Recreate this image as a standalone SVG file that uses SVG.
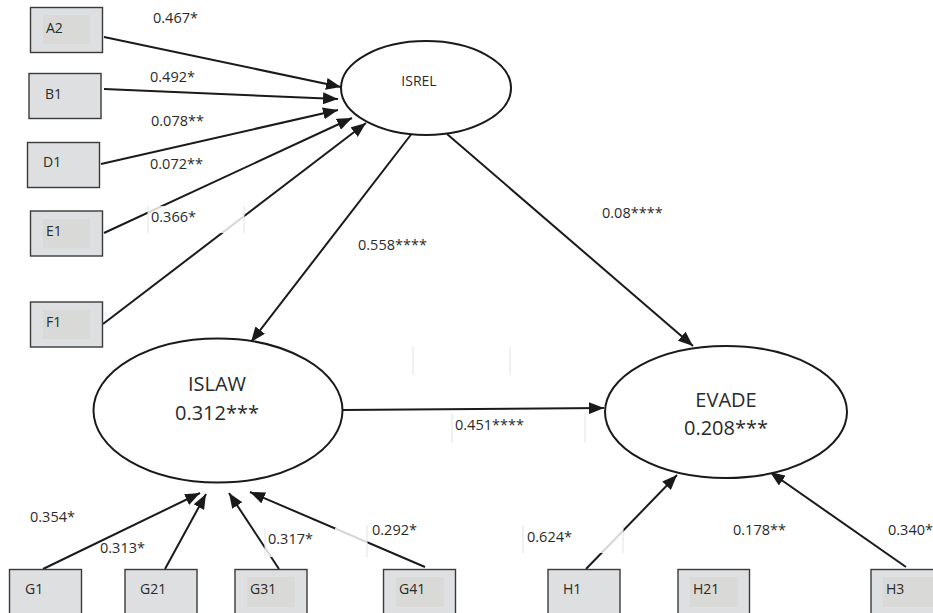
<svg xmlns="http://www.w3.org/2000/svg" width="933" height="613" viewBox="0 0 933 613">
<style>
.box{fill:#dedfe1;stroke:#3a3a3a;stroke-width:1.4}
.inner{fill:#d9d9d7;stroke:none}
.ell{fill:#fff;stroke:#1a1a1a;stroke-width:2}
.lbl{font-family:"Open Sans","Liberation Sans",sans-serif;font-size:14px;fill:#2a2a2a}
.big{font-family:"Open Sans","Liberation Sans",sans-serif;font-size:20px;fill:#2a2a2a;text-anchor:middle}
.coef{font-family:"Open Sans","Liberation Sans",sans-serif;font-size:14.5px;fill:#2a2a2a}
.conn{stroke:#1a1a1a;stroke-width:2;fill:none;marker-end:url(#ah)}
.tb{fill:#fff;fill-opacity:0.82;stroke:none}
.tbl{stroke:#e2e2e2;stroke-width:1}
</style>
<defs>
<marker id="ah" markerUnits="userSpaceOnUse" markerWidth="15" markerHeight="12" refX="15" refY="6" orient="auto">
<path d="M0,0 L15,6 L0,12 z" fill="#1a1a1a"/>
</marker>
</defs>
<rect width="933" height="613" fill="#fff"/>

<g id="connectors">
<line class="conn" x1="104" y1="37" x2="341" y2="87"/>
<line class="conn" x1="104" y1="89" x2="338" y2="99"/>
<line class="conn" x1="101" y1="164" x2="338" y2="110"/>
<line class="conn" x1="104" y1="233" x2="352" y2="118"/>
<line class="conn" x1="103" y1="324" x2="366" y2="123"/>
<line class="conn" x1="413" y1="132" x2="251" y2="342"/>
<line class="conn" x1="447" y1="134" x2="693" y2="346"/>
<line class="conn" x1="342" y1="410" x2="604" y2="408"/>
<line class="conn" x1="43" y1="569" x2="200" y2="493"/>
<line class="conn" x1="165" y1="569" x2="206" y2="494"/>
<line class="conn" x1="279" y1="569" x2="229" y2="493"/>
<line class="conn" x1="425" y1="567" x2="250" y2="492"/>
<line class="conn" x1="586" y1="569" x2="677" y2="475"/>
<line class="conn" x1="906" y1="567" x2="770" y2="472"/>
</g>

<g id="textboxes">
<rect class="tb" x="148" y="206" width="96" height="27"/>
<line class="tbl" x1="148" y1="206" x2="148" y2="233"/>
<line class="tbl" x1="244" y1="206" x2="244" y2="233"/>
<rect class="tb" x="265" y="528" width="40" height="29"/>
<line class="tbl" x1="265" y1="528" x2="265" y2="557"/>
<rect class="tb" x="335" y="528" width="32" height="29"/>
<line class="tbl" x1="367" y1="525" x2="367" y2="557"/>
<rect class="tb" x="523" y="525" width="100" height="28"/>
<line class="tbl" x1="523" y1="525" x2="523" y2="553"/>
<line class="tbl" x1="623" y1="525" x2="623" y2="553"/>
<line class="tbl" x1="452" y1="413" x2="452" y2="443"/>
<line class="tbl" x1="585" y1="413" x2="585" y2="443"/>
<line class="tbl" x1="413" y1="346" x2="413" y2="375"/>
<line class="tbl" x1="510" y1="346" x2="510" y2="375"/>
</g>

<g id="A2"><rect class="box" x="30.5" y="7.5" width="72" height="45"/><rect class="inner" x="43" y="15" width="47" height="29"/><text class="lbl" x="46" y="33">A2</text></g>
<g id="B1"><rect class="box" x="29" y="73.5" width="72" height="45"/><text class="lbl" x="45" y="99">B1</text></g>
<g id="D1"><rect class="box" x="27.5" y="142.5" width="72" height="45"/><text class="lbl" x="43" y="167">D1</text></g>
<g id="E1"><rect class="box" x="30.5" y="211" width="72" height="45"/><rect class="inner" x="43" y="219" width="47" height="29"/><text class="lbl" x="46" y="236">E1</text></g>
<g id="F1"><rect class="box" x="30.5" y="302" width="72" height="45"/><rect class="inner" x="43" y="310" width="47" height="29"/><text class="lbl" x="46" y="327">F1</text></g>

<g id="ISREL"><ellipse class="ell" cx="426" cy="88" rx="85" ry="47"/><text class="lbl" x="419" y="86" text-anchor="middle" font-size="13">ISREL</text></g>
<g id="ISLAW"><ellipse class="ell" cx="218" cy="410.5" rx="124.5" ry="72"/><text class="big" x="217" y="391">ISLAW</text><text class="big" x="217" y="420">0.312***</text></g>
<g id="EVADE"><ellipse class="ell" cx="726" cy="412" rx="121" ry="66"/><text class="big" x="726" y="407">EVADE</text><text class="big" x="726" y="435">0.208***</text></g>

<g id="G1"><rect class="box" x="9.5" y="569.5" width="72" height="50"/><text class="lbl" x="25" y="594">G1</text></g>
<g id="G21"><rect class="box" x="125" y="569.5" width="72" height="50"/><text class="lbl" x="140" y="594">G21</text></g>
<g id="G31"><rect class="box" x="235" y="569.5" width="72" height="50"/><rect class="inner" x="247" y="577" width="48" height="30"/><text class="lbl" x="250" y="594">G31</text></g>
<g id="G41"><rect class="box" x="383.5" y="569.5" width="72" height="50"/><rect class="inner" x="396" y="577" width="48" height="30"/><text class="lbl" x="399" y="594">G41</text></g>
<g id="H1"><rect class="box" x="548" y="569.5" width="72" height="50"/><text class="lbl" x="563" y="594">H1</text></g>
<g id="H21"><rect class="box" x="678" y="569.5" width="71.5" height="50"/><rect class="inner" x="690" y="577" width="48" height="30"/><text class="lbl" x="693" y="594">H21</text></g>
<g id="H3"><rect class="box" x="871" y="569.5" width="72" height="50"/><rect class="inner" x="883" y="577" width="50" height="30"/><text class="lbl" x="886" y="594">H3</text></g>

<g id="labels">
<text class="coef" x="153" y="23">0.467*</text>
<text class="coef" x="150" y="82">0.492*</text>
<text class="coef" x="151" y="126">0.078**</text>
<text class="coef" x="150" y="169">0.072**</text>
<text class="coef" x="151" y="222">0.366*</text>
<text class="coef" x="358" y="250">0.558****</text>
<text class="coef" x="602" y="218">0.08****</text>
<text class="coef" x="455" y="430">0.451****</text>
<text class="coef" x="30" y="522">0.354*</text>
<text class="coef" x="100" y="553">0.313*</text>
<text class="coef" x="268" y="544">0.317*</text>
<text class="coef" x="372" y="535">0.292*</text>
<text class="coef" x="527" y="542">0.624*</text>
<text class="coef" x="733" y="535">0.178**</text>
<text class="coef" x="888" y="535">0.340*</text>
</g>
</svg>
